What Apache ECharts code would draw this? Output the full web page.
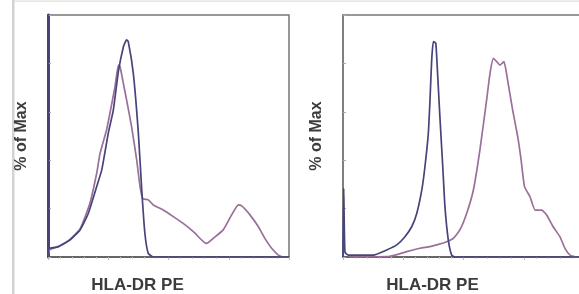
<!DOCTYPE html>
<html>
<head>
<meta charset="utf-8">
<script src="https://cdn.jsdelivr.net/npm/echarts@6/dist/echarts.min.js"></script>
<style>
  html, body { margin: 0; padding: 0; background: #fff; }
  #chart { width: 579px; height: 294px; }
</style>
</head>
<body>
<div id="chart"></div>
<script>
// x = position along the (log) fluorescence axis, 0..100 ; y = % of Max
var axisNameX = 'HLA-DR PE';
var axisNameY = '% of Max';
var yTicks = [0, 20, 40, 60, 80, 100];

// left panel
var isoLeft = [[0, 0], [0, 100], [0.5, 3.6], [4.3, 4.3], [9.1, 7.0], [13.3, 11.2], [16.7, 18.0], [20.2, 29.1],
    [22.3, 36.0], [25.0, 51.1], [27.1, 60.7], [29.2, 76.6], [31.3, 86.9], [32.6, 89.7], [33.3, 89.0],
    [35.4, 75.9], [37.5, 51.1], [38.9, 27.7], [40.2, 9.8], [41.6, 1.5], [43.7, 0], [100, 0]];
var hlaLeft = [[0, 0], [0.6, 2.9], [4.3, 4.3], [9.1, 7.3], [13.3, 11.6], [17.4, 22.2], [20.2, 34.6],
    [21.6, 42.8], [24.3, 52.5], [25.7, 59.4], [27.8, 70.4], [29.2, 79.3], [29.9, 78.6], [31.0, 73.1],
    [32.6, 64.9], [34.7, 53.8], [36.8, 40.1], [38.2, 29.1], [39.3, 24.2], [41.6, 23.6], [43.7, 21.5],
    [47.8, 19.4], [52.0, 16.7], [56.1, 13.9], [60.3, 10.5], [63.8, 7.0], [65.8, 5.6], [68.6, 7.7],
    [72.7, 11.2], [76.2, 17.4], [79.0, 21.5], [80.4, 21.1], [83.8, 17.4], [87.3, 12.5], [90.0, 7.7],
    [92.8, 3.6], [95.6, 0.8], [97.6, 0], [100, 0]];

// right panel
var isoRight = [[0, 0], [0.3, 28.4], [0.8, 2.0], [2.2, 0.8], [12.6, 0.8], [18.1, 2.9], [22.3, 5.0],
    [25.7, 8.4], [28.5, 12.5], [30.6, 18.0], [32.7, 27.7], [34.0, 37.3], [35.4, 51.1], [36.1, 64.9],
    [36.8, 81.4], [37.5, 89.0], [38.5, 88.3], [39.1, 78.6], [40.2, 58.0], [41.4, 37.3], [42.3, 20.8],
    [43.7, 7.0], [45.1, 0.8], [46.5, 0], [100, 0]];
var hlaRight = [[2.2, 0], [19.5, 0.3], [26.4, 2.2], [32.0, 3.6], [36.1, 4.3], [39.6, 5.2], [43.0, 6.3],
    [45.8, 7.7], [48.5, 11.2], [51.3, 18.0], [54.1, 27.7], [56.8, 44.2], [59.6, 64.9], [61.0, 75.9],
    [62.4, 82.1], [63.8, 80.7], [65.1, 79.3], [66.8, 80.7], [68.3, 73.1], [70.4, 60.7], [72.5, 49.7],
    [73.9, 40.1], [75.3, 29.1], [77.6, 24.9], [79.7, 19.4], [82.4, 19.4], [84.5, 17.4], [87.2, 12.5],
    [90.0, 8.4], [92.1, 3.6], [94.2, 0.8], [96.9, 0], [100, 0]];

var colIso = '#46447a';
var colHla = '#9a6f98';

var nameFont = { fontFamily: 'Liberation Sans', fontWeight: 'bold', color: '#3c3c3c' };

function makeX(idx) {
    return {
        type: 'value', gridIndex: idx, min: 0, max: 100, interval: 25,
        name: axisNameX, nameLocation: 'middle', nameGap: 20,
        nameTextStyle: Object.assign({ fontSize: 17, padding: [0, 62, 0, 0] }, nameFont),
        axisLine: { lineStyle: { color: '#555', width: 1.5 } },
        axisTick: { show: true, length: 3, lineStyle: { color: '#bbb' } },
        minorTick: { show: true, splitNumber: 5, length: 2, lineStyle: { color: '#ccc' } },
        axisLabel: { show: false },
        splitLine: { show: false }
    };
}
function makeY(idx, lineColor, lineWidth) {
    return {
        type: 'value', gridIndex: idx, min: yTicks[0], max: yTicks[yTicks.length - 1], interval: 20,
        name: axisNameY, nameLocation: 'middle', nameRotate: 90, nameGap: 18,
        nameTextStyle: Object.assign({ fontSize: 16 }, nameFont),
        axisLine: { show: true, lineStyle: { color: lineColor, width: lineWidth } },
        axisTick: { show: true, inside: true, length: 3, lineStyle: { color: '#aaa' } },
        axisLabel: { show: false },
        splitLine: { show: false }
    };
}
function line(data, color, idx, width) {
    return {
        type: 'line', xAxisIndex: idx, yAxisIndex: idx, data: data,
        showSymbol: false, smooth: 0.15, animation: false,
        lineStyle: { color: color, width: width }
    };
}

var chart = echarts.init(document.getElementById('chart'));
chart.setOption({
    backgroundColor: '#fff',
    animation: false,
    graphic: [
        { type: 'rect', shape: { x: 12, y: 0, width: 2.5, height: 294 }, style: { fill: '#d2d2d2' } },
        { type: 'rect', shape: { x: 14, y: 0.5, width: 565, height: 1.2 }, style: { fill: '#dedede' } }
    ],
    grid: [
        { left: 48, top: 15, width: 241, height: 242, show: true, borderColor: '#777', borderWidth: 1.5,
          outerBoundsMode: 'none', containLabel: false },
        { left: 343, top: 15, width: 241, height: 242, show: true, borderColor: '#777', borderWidth: 1.5,
          outerBoundsMode: 'none', containLabel: false }
    ],
    xAxis: [makeX(0), makeX(1)],
    yAxis: [makeY(0, colIso, 3), makeY(1, '#777', 1.5)],
    series: [
        line(hlaLeft, colHla, 0, 1.7),
        line(isoLeft, colIso, 0, 1.7),
        line(hlaRight, colHla, 1, 1.7),
        line(isoRight, colIso, 1, 1.7)
    ]
});
</script>
</body>
</html>
